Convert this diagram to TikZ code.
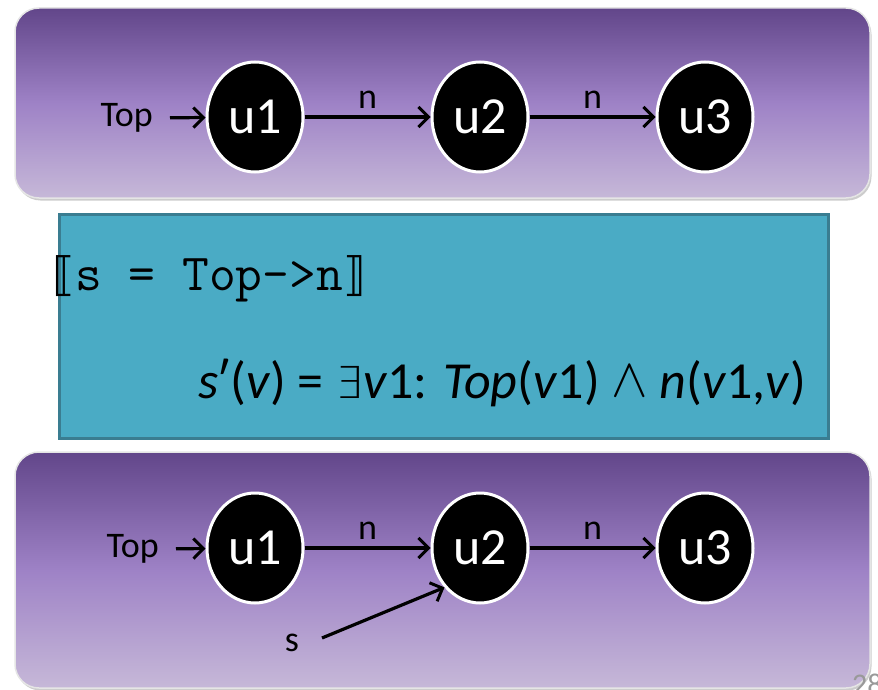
\documentclass[tikz,border=0pt]{standalone}
\usepackage{fontspec}
\usepackage{graphicx}
\setmainfont{Carlito}
\newfontfamily\symf{DejaVu Sans}
\newfontfamily\symlf{DejaVu Sans ExtraLight}
\usetikzlibrary{arrows.meta,shadows,shapes.geometric}
\definecolor{pdark}{HTML}{62468A}
\definecolor{pmid}{HTML}{9E82C6}
\definecolor{plight}{HTML}{C6B8D8}
\definecolor{bfill}{HTML}{4AABC5}
\definecolor{bdraw}{HTML}{3A7D91}
\tikzset{
  panel/.style={rounded corners=24pt, draw=white!80!gray, line width=1.5pt,
    top color=pdark, bottom color=plight, middle color=pmid,
    drop shadow={shadow xshift=1.5pt, shadow yshift=-2.5pt, opacity=.4}},
  obj/.style={ellipse, fill=black, draw=white, line width=3pt, minimum width=96pt,
    minimum height=110pt, inner sep=0pt, text=white, font=\fontsize{52}{52}\selectfont},
  lbl/.style={font=\fontsize{36}{36}\selectfont, text=black, inner sep=1pt},
  edge/.style={-{Straight Barb[length=10pt,width=20pt,line width=3pt]}, line width=3.2pt, black}
}
\begin{document}
\begin{tikzpicture}[x=1pt,y=-1pt]
\useasboundingbox (0,0) rectangle (878,690);
\fill[white] (0,0) rectangle (878,690);
% top panel
\path[panel] (15,8) rectangle (870,198);
\node[obj] (a1) at (255,117) {u1};
\node[obj] (a2) at (480,117) {u2};
\node[obj] (a3) at (705,117) {u3};
\node[lbl, anchor=east] (atop) at (154,118) {Top};
\draw[edge, shorten <=16pt] (atop.east) -- (a1);
\draw[edge] (a1) -- node[lbl, above=6pt] (an1) {n} (a2);
\draw[edge] (a2) -- node[lbl, above=6pt] (an2) {n} (a3);
% blue box
\path[fill=bfill, draw=bdraw, line width=3pt] (59,214) rectangle (828,438);
\node[anchor=base east, inner sep=0pt] (code) at (366,290)
  {{\symf\fontsize{46}{46}\selectfont ⟦}{\ttfamily\fontsize{52}{52}\selectfont s = Top->n}{\symf\fontsize{46}{46}\selectfont ⟧}};
\node[anchor=base east, inner sep=0pt, font=\fontsize{52}{52}\selectfont] (form) at (806,398)
  {\textit{s}ʹ(\textit{v}) = {\symlf\fontsize{44}{44}\selectfont ∃}\textit{v}1: \textit{Top}(\textit{v}1) \raisebox{2pt}{\scalebox{2.2}{$\wedge$}} \textit{n}(\textit{v}1,\textit{v})};
% bottom panel
\path[panel] (15,452) rectangle (870,688);
\node[obj] (b1) at (255,548) {u1};
\node[obj] (b2) at (480,548) {u2};
\node[obj] (b3) at (705,548) {u3};
\node[lbl, anchor=east] (btop) at (160,549) {Top};
\draw[edge, shorten <=16pt] (btop.east) -- (b1);
\draw[edge] (b1) -- node[lbl, above=6pt] (bn1) {n} (b2);
\draw[edge] (b2) -- node[lbl, above=6pt] (bn2) {n} (b3);
\node[lbl] (bs) at (292,643) {s};
\coordinate (sstart) at (322,638);
\draw[edge] (sstart) -- (b2.-132);
\node[anchor=west, text=gray!80, font=\fontsize{30}{30}\selectfont, inner sep=0pt] (pg) at (852,684) {28};
\end{tikzpicture}
\end{document}
